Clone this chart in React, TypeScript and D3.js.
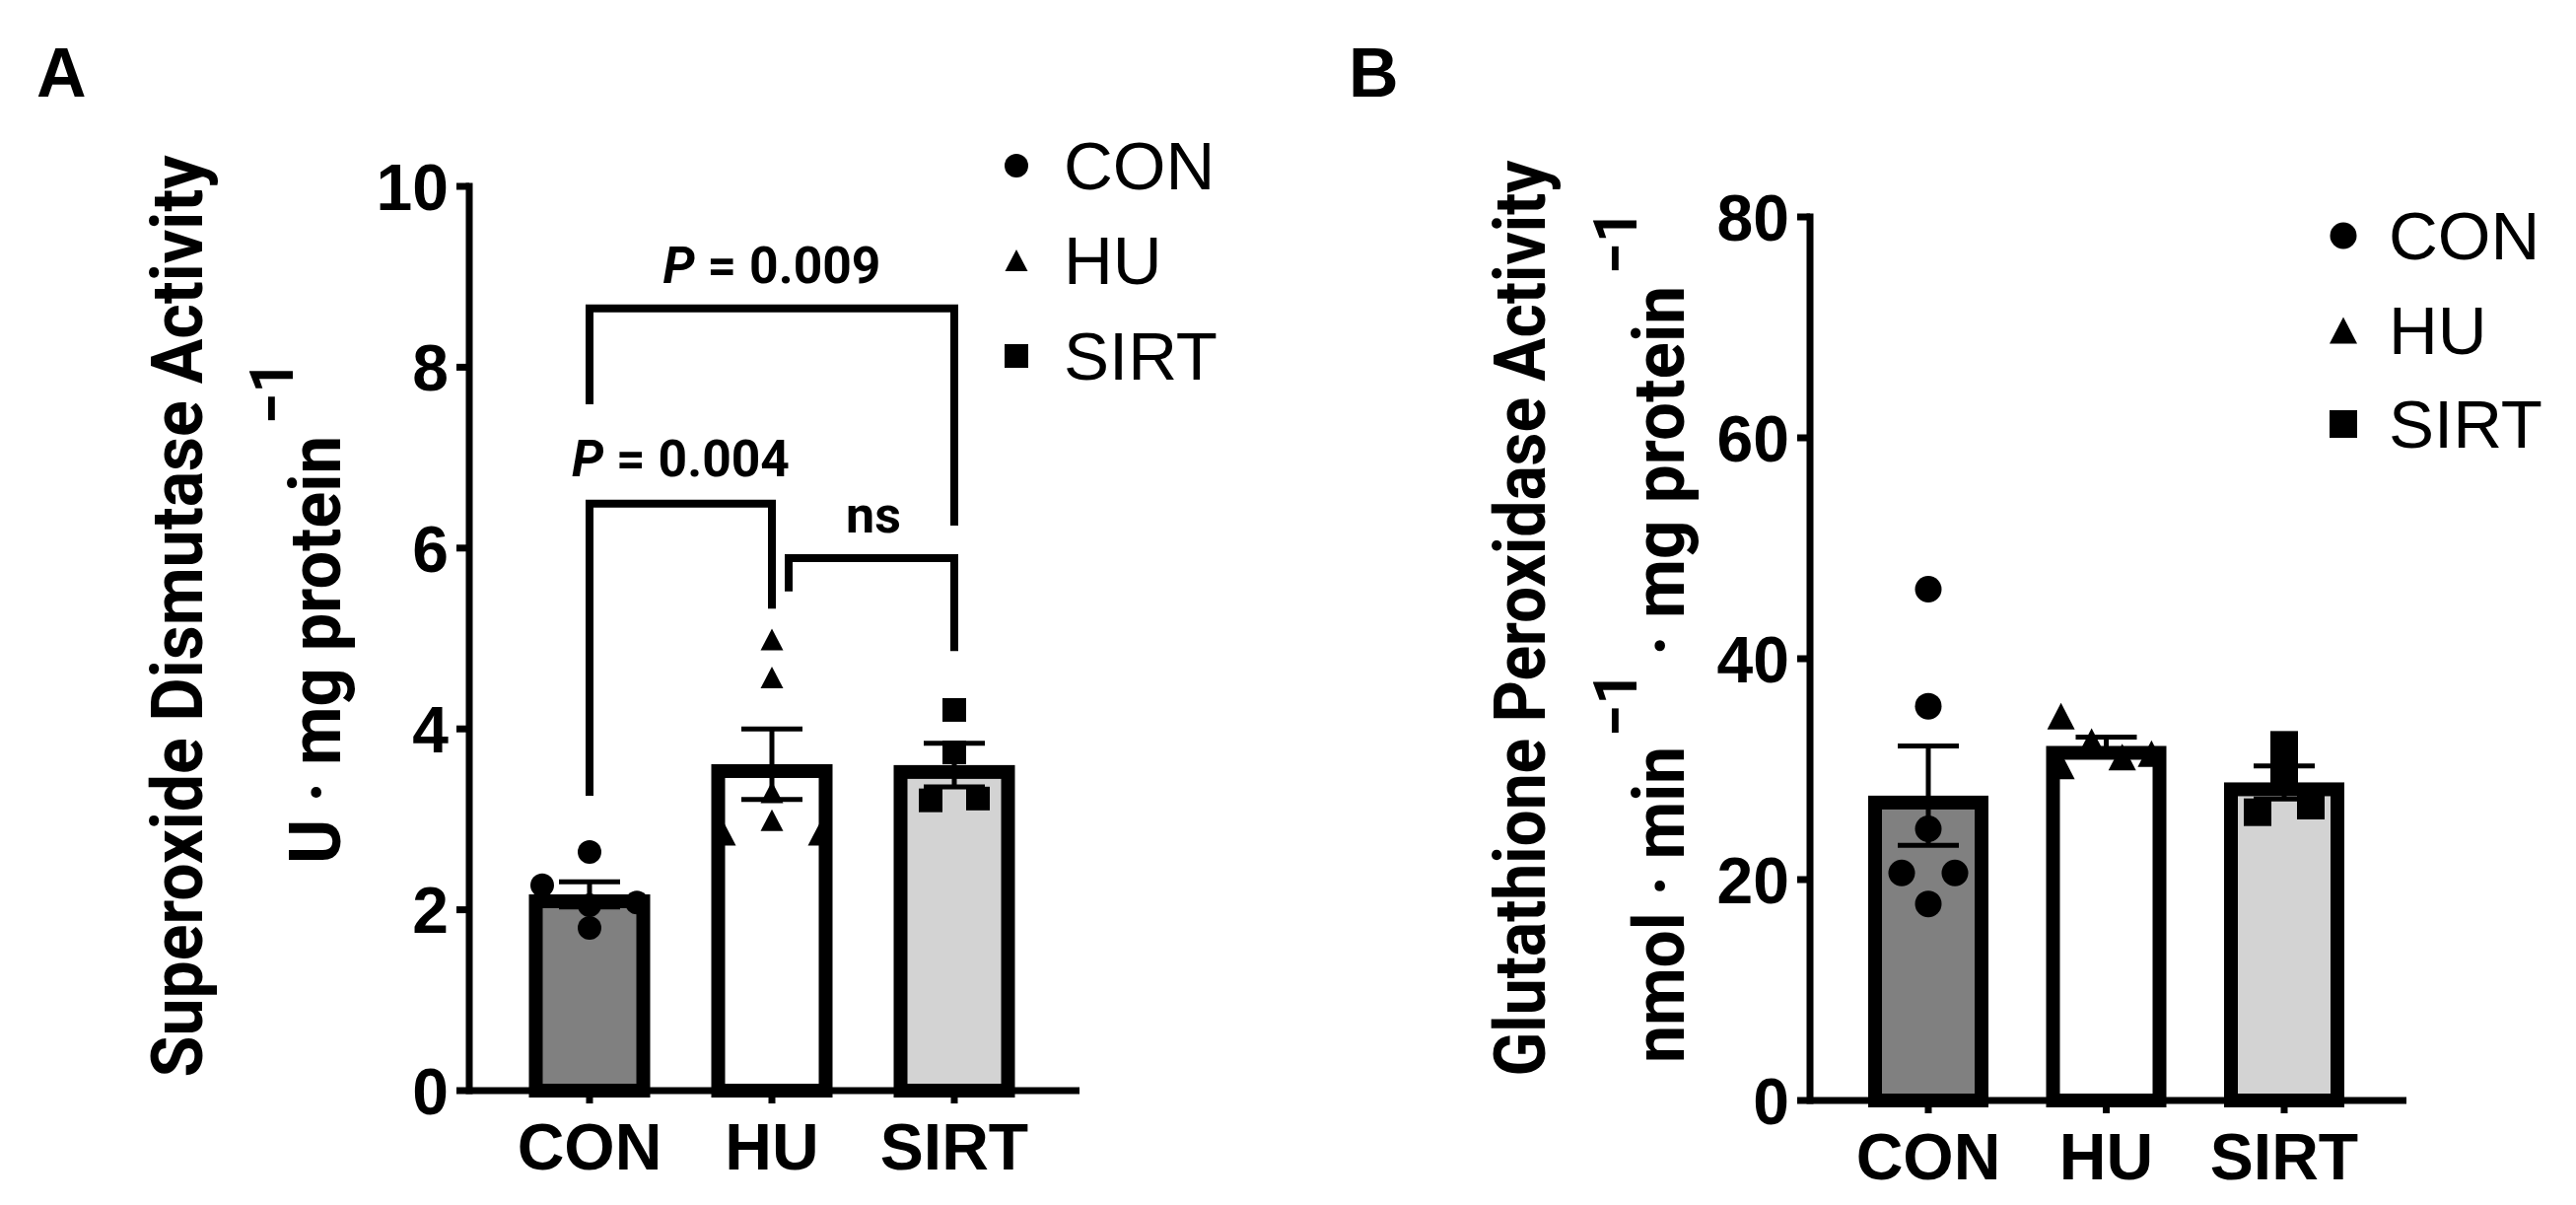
import React from "react";
import * as d3 from "d3";

// ---------- data ----------
const categories = ["CON", "HU", "SIRT"];
const barFills = ["#808080", "#ffffff", "#d3d3d3"];
const symbols = ["circle", "triangle", "square"];

// Panel A – Superoxide Dismutase Activity (U · mg protein⁻¹)
const sodCON = [2.64, 2.27, 2.08, 2.05, 1.8];
const sodHU = [4.99, 4.57, 3.3, 2.99, 2.83, 2.83];
const sodSIRT = [4.21, 3.74, 3.21, 3.23];
const sodMean = [2.17, 3.61, 3.6];
const sodSEM = [0.14, 0.39, 0.24];
const sodTicks = [0, 2, 4, 6, 8, 10];
// scatter spread of the points, in symbol widths (as arranged in the figure)
const sodSpread = [
  [0, -2, 2, 0, 0],
  [0, 0, 0, 0, -2, 2],
  [0, 0, -1, 1],
];

// Panel B – Glutathione Peroxidase Activity (nmol · min⁻¹ · mg protein⁻¹)
const gpxCON = [46.3, 35.7, 24.6, 20.6, 20.6, 17.8];
const gpxHU = [34.8, 32.5, 31.4, 31.1, 30.3];
const gpxSIRT = [32.2, 30.0, 26.1, 26.7];
const gpxMean = [27.6, 32.1, 28.8];
const gpxSEM = [4.5, 0.8, 1.5];
const gpxTicks = [0, 20, 40, 60, 80];
const gpxSpread = [
  [0, 0, 0, -1, 1, 0],
  [-1.7, -0.55, 1.7, 0.6, -1.7],
  [0, 0, -1, 1],
];

// Panel A comparisons
const compFrom = ["CON", "CON", "HU"];
const compTo = ["SIRT", "HU", "SIRT"];
const compLabel = ["0.009", "0.004", "ns"];
const compTop = [8.65, 6.49, 5.89];
const compLeftEnd = [7.59, 3.26, 5.52];
const compRightEnd = [6.25, 5.33, 4.86];
const compText = [8.93, 6.79, 6.17];

// ---------- layout ----------
const W = 2613;
const H = 1222;
const LABEL_FONT = "Roboto, 'Open Sans', sans-serif";
const AXIS_FONT = "'Liberation Sans', Arial, sans-serif";

const panelA = {
  values: [sodCON, sodHU, sodSIRT],
  spread: sodSpread,
  mean: sodMean,
  sem: sodSEM,
  ticks: sodTicks,
  axisX: 476,
  axisEnd: 1095,
  y0: 1106,
  y1: 189,
  c0: 598,
  c1: 968,
  barW: 123,
  sym: 24,
  symSq: 24,
  triW: 23,
  triH: 22,
  legendX: 1031,
  legendTextX: 1079,
  legendBase: [192, 288, 385],
};

const panelB = {
  values: [gpxCON, gpxHU, gpxSIRT],
  spread: gpxSpread,
  mean: gpxMean,
  sem: gpxSEM,
  ticks: gpxTicks,
  axisX: 1836,
  axisEnd: 2441,
  y0: 1116,
  y1: 220,
  c0: 1956,
  c1: 2317,
  barW: 122,
  sym: 27,
  symSq: 28,
  triW: 28,
  triH: 27,
  legendX: 2377,
  legendTextX: 2423,
  legendBase: [263, 359, 454],
};

function Marker({ kind, x, y, p }: any) {
  if (kind === "circle") return <circle cx={x} cy={y} r={p.sym / 2} fill="#000" />;
  if (kind === "square")
    return <rect x={x - p.symSq / 2} y={y - p.symSq / 2} width={p.symSq} height={p.symSq} fill="#000" />;
  const w = p.triW, h = p.triH;
  return <path d={`M${x},${y - h / 2}L${x + w / 2},${y + h / 2}L${x - w / 2},${y + h / 2}Z`} fill="#000" />;
}

function Panel({ p, children }: any) {
  const y = d3.scaleLinear().domain([p.ticks[0], p.ticks[p.ticks.length - 1]]).range([p.y0, p.y1]);
  const x = d3.scalePoint<string>().domain(categories).range([p.c0, p.c1]);
  const sw = 14;
  const axisW = 7;
  const tickLen = 13;
  return (
    <g>
      {/* bars */}
      {categories.map((c, i) => {
        const cx = x(c)!;
        const top = y(p.mean[i]);
        return (
          <rect
            key={c}
            x={cx - p.barW / 2 + sw / 2}
            y={top + sw / 2}
            width={p.barW - sw}
            height={p.y0 - top - sw / 2}
            fill={barFills[i]}
            stroke="#000"
            strokeWidth={sw}
          />
        );
      })}
      {/* error bars */}
      {categories.map((c, i) => {
        const cx = x(c)!;
        const hi = y(p.mean[i] + p.sem[i]);
        const lo = y(p.mean[i] - p.sem[i]);
        return (
          <g key={c} stroke="#000" strokeWidth={5}>
            <line x1={cx} x2={cx} y1={hi} y2={lo} />
            <line x1={cx - 31} x2={cx + 31} y1={hi} y2={hi} />
            <line x1={cx - 31} x2={cx + 31} y1={lo} y2={lo} />
          </g>
        );
      })}
      {/* points */}
      {categories.map((c, i) =>
        p.values[i].map((v: number, j: number) => (
          <Marker key={c + j} kind={symbols[i]} x={x(c)! + p.spread[i][j] * p.sym} y={y(v)} p={p} />
        ))
      )}
      {/* axes */}
      <line x1={p.axisX} x2={p.axisX} y1={y(p.ticks[p.ticks.length - 1]) - axisW / 2} y2={p.y0 + axisW / 2} stroke="#000" strokeWidth={axisW} />
      <line x1={p.axisX} x2={p.axisEnd} y1={p.y0} y2={p.y0} stroke="#000" strokeWidth={axisW} />
      {p.ticks.map((t: number) => (
        <g key={t}>
          <line x1={p.axisX - tickLen} x2={p.axisX} y1={y(t)} y2={y(t)} stroke="#000" strokeWidth={axisW} />
          <text
            x={p.axisX - 21}
            y={y(t)}
            dy="0.36em"
            textAnchor="end"
            fontFamily={AXIS_FONT}
            fontWeight="bold"
            fontSize={66}
          >
            {t}
          </text>
        </g>
      ))}
      {categories.map((c) => (
        <g key={c}>
          <line x1={x(c)} x2={x(c)} y1={p.y0} y2={p.y0 + tickLen} stroke="#000" strokeWidth={axisW} />
          <text x={x(c)} y={p.y0 + 80} textAnchor="middle" fontFamily={AXIS_FONT} fontWeight="bold" fontSize={66}>
            {c}
          </text>
        </g>
      ))}
      {/* legend */}
      {categories.map((c, i) => (
        <g key={c}>
          <Marker kind={symbols[i]} x={p.legendX} y={p.legendBase[i] - 24} p={p} />
          <text x={p.legendTextX} y={p.legendBase[i]} fontFamily={AXIS_FONT} fontSize={69}>
            {c}
          </text>
        </g>
      ))}
      {children && children(x, y)}
    </g>
  );
}

function Brackets(x: any, y: any) {
  return (
    <g>
      {compLabel.map((lab, i) => {
        const shift = i === 2 ? 17 : 0;
        const xl = x(compFrom[i]) + shift;
        const xr = x(compTo[i]);
        const d = `M${xl},${y(compLeftEnd[i])}V${y(compTop[i])}H${xr}V${y(compRightEnd[i])}`;
        const cx = (xl + xr) / 2;
        return (
          <g key={i}>
            <path d={d} fill="none" stroke="#000" strokeWidth={8} strokeLinejoin="miter" />
            {lab === "ns" ? (
              <text x={cx + 2} y={y(compText[i])} textAnchor="middle" fontFamily={LABEL_FONT} fontWeight="bold" fontSize={52}>
                ns
              </text>
            ) : (
              <text
                x={cx}
                y={y(compText[i])}
                textAnchor="middle"
                fontFamily={LABEL_FONT}
                fontWeight="bold"
                fontSize={51}
                textLength={221}
                lengthAdjust="spacingAndGlyphs"
              >
                <tspan fontStyle="italic">P</tspan>
                {" = " + lab}
              </text>
            )}
          </g>
        );
      })}
    </g>
  );
}

function RotText({ x, y, anchor = "start", size = 72, len, children }: any) {
  return (
    <text
      transform={`translate(${x},${y}) rotate(-90)`}
      textAnchor={anchor}
      fontFamily={LABEL_FONT}
      fontWeight="bold"
      fontSize={size}
      textLength={len}
      lengthAdjust="spacingAndGlyphs"
    >
      {children}
    </text>
  );
}

export default function App() {
  return (
    <svg
      width={W}
      height={H}
      viewBox={`0 0 ${W} ${H}`}
      style={{ position: "absolute", left: 0, top: 0, display: "block", background: "#fff" }}
    >
      <rect width={W} height={H} fill="#fff" />
      {/* panel letters */}
      <text x={37} y={98} fontFamily={AXIS_FONT} fontWeight="bold" fontSize={70}>A</text>
      <text x={1368} y={98} fontFamily={AXIS_FONT} fontWeight="bold" fontSize={70}>B</text>

      {/* Panel A y labels */}
      <RotText x={205} y={625} anchor="middle" len={935}>Superoxide Dismutase Activity</RotText>
      <RotText x={345} y={876} len={434}>U · mg protein</RotText>
      <RotText x={297} y={430} size={62} len={64}>−1</RotText>

      {/* Panel B y labels */}
      <RotText x={1567} y={627} anchor="middle" len={929}>Glutathione Peroxidase Activity</RotText>
      <RotText x={1708} y={1078} len={321}>nmol · min</RotText>
      <RotText x={1660} y={747} size={62} len={66}>−1</RotText>
      <RotText x={1708} y={665} len={375}>· mg protein</RotText>
      <RotText x={1660} y={278} size={62} len={65}>−1</RotText>

      <Panel p={panelA}>{(x: any, y: any) => Brackets(x, y)}</Panel>
      <Panel p={panelB} />
    </svg>
  );
}
